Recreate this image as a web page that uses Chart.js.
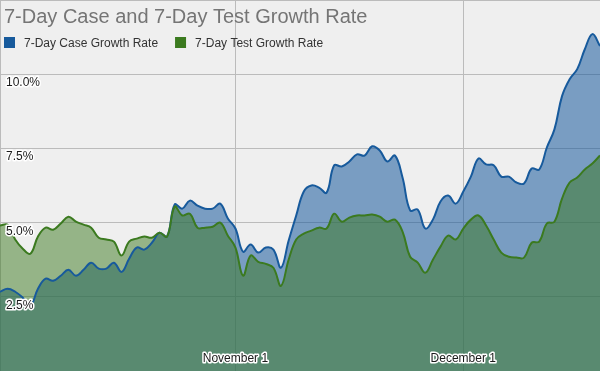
<!DOCTYPE html>
<html>
<head>
    <title>7-Day Case and 7-Day Test Growth Rate</title>
    <script src="https://cdn.jsdelivr.net/npm/chart.js"></script>
    <style>
        body { margin: 0; background: #efefef; }
        #wrap { width: 600px; height: 371px; }
        canvas { background: #efefef; }
    </style>
</head>
<body>
    <div id="wrap">
        <canvas id="growthChart"></canvas>
    </div>

    <script>
        // daily 7-day growth rates, Oct 1 - Dec 19 (percent)
        const caseGrowth = [
            2.67, 2.77, 2.67, 2.47, 2.20, 2.77, 3.11, 3.04, 3.21, 3.41,
            3.21, 3.41, 3.65, 3.45, 3.45, 3.65, 3.34, 3.78, 4.16, 4.09,
            4.32, 4.66, 4.53, 5.61, 5.47, 5.74, 5.57, 5.47, 5.47, 5.64,
            5.14, 4.80, 4.02, 4.26, 3.99, 4.16, 4.09, 3.48, 4.39, 5.24,
            6.05, 6.25, 6.18, 6.01, 6.93, 6.89, 7.06, 7.30, 7.26, 7.57,
            7.43, 7.06, 7.26, 6.52, 5.41, 5.44, 4.80, 5.10, 5.71, 5.91,
            5.64, 6.05, 6.55, 7.16, 6.96, 6.93, 6.55, 6.55, 6.35, 6.32,
            6.82, 6.79, 7.53, 8.14, 9.26, 9.83, 10.17, 10.84, 11.35, 10.95
        ];
        const testGrowth = [
            4.90, 4.93, 4.43, 4.12, 3.95, 4.53, 4.83, 4.76, 4.97, 5.20,
            5.03, 4.93, 4.83, 4.49, 4.43, 4.36, 3.89, 4.36, 4.46, 4.53,
            4.49, 4.66, 4.53, 5.54, 5.24, 5.30, 4.83, 4.83, 4.86, 5.00,
            4.56, 4.16, 3.21, 3.89, 3.68, 3.61, 3.48, 2.87, 3.75, 4.43,
            4.63, 4.73, 4.83, 4.80, 5.30, 5.03, 5.17, 5.24, 5.24, 5.27,
            5.20, 5.03, 5.10, 4.70, 3.85, 3.65, 3.31, 3.75, 4.19, 4.56,
            4.43, 4.80, 5.10, 5.24, 4.90, 4.43, 3.99, 3.85, 3.82, 3.82,
            4.32, 4.36, 4.97, 5.03, 5.81, 6.35, 6.52, 6.79, 6.99, 7.26
        ];
        const months = [['October', 31], ['November', 30], ['December', 19]];
        const shownDates = ['November 1', 'December 1'];
        const gridDates = ['October 1', 'November 1', 'December 1'];
        const yTicks = [2.5, 5.0, 7.5, 10.0];

        const dates = [];
        months.forEach(([name, days]) => {
            for (let d = 1; d <= days; d++) dates.push(name + ' ' + d);
        });

        const blue = '#175a9c';
        const green = '#3b7a1f';
        const font = "'Liberation Sans', Arial, sans-serif";

        function haloText(ctx, text, x, y) {
            ctx.lineWidth = 3;
            ctx.lineJoin = 'round';
            ctx.strokeStyle = '#ffffff';
            ctx.strokeText(text, x, y);
            ctx.fillStyle = '#1a1a1a';
            ctx.fillText(text, x, y);
        }

        // tick labels sit inside the plot, title and legend float over it
        const overlay = {
            id: 'overlay',
            afterDatasetsDraw(chart) {
                const { ctx, scales: { x, y } } = chart;
                ctx.save();
                ctx.font = '12px ' + font;
                ctx.textAlign = 'left';
                yTicks.forEach(v => {
                    haloText(ctx, v.toFixed(1) + '%', 6, y.getPixelForValue(v) + 12);
                });
                ctx.textAlign = 'center';
                shownDates.forEach(label => {
                    const px = x.getPixelForValue(dates.indexOf(label));
                    haloText(ctx, label, px, chart.chartArea.bottom - 9);
                });
                ctx.restore();
            },
            afterDraw(chart) {
                const ctx = chart.ctx;
                ctx.save();
                ctx.textAlign = 'left';
                ctx.font = '20px ' + font;
                ctx.fillStyle = '#757575';
                ctx.fillText('7-Day Case and 7-Day Test Growth Rate', 4, 23);

                ctx.font = '12px ' + font;
                let lx = 4;
                chart.data.datasets.forEach(ds => {
                    ctx.fillStyle = ds.borderColor;
                    ctx.fillRect(lx, 37, 11, 11);
                    ctx.fillStyle = '#333333';
                    ctx.fillText(ds.label, lx + 20, 46.5);
                    lx += 20 + ctx.measureText(ds.label).width + 17;
                });
                ctx.restore();
            }
        };

        const ctx = document.getElementById('growthChart').getContext('2d');
        new Chart(ctx, {
            type: 'line',
            data: {
                labels: dates,
                datasets: [
                    {
                        label: '7-Day Case Growth Rate',
                        data: caseGrowth,
                        borderColor: blue,
                        backgroundColor: 'rgba(23, 90, 156, 0.55)',
                        fill: 'origin',
                        order: 1
                    },
                    {
                        label: '7-Day Test Growth Rate',
                        data: testGrowth,
                        borderColor: green,
                        backgroundColor: 'rgba(59, 122, 31, 0.5)',
                        fill: 'origin',
                        order: 0
                    }
                ]
            },
            options: {
                responsive: true,
                maintainAspectRatio: false,
                animation: false,
                layout: { padding: 0 },
                elements: {
                    point: { radius: 0 },
                    line: { borderWidth: 2, tension: 0.4 }
                },
                plugins: {
                    legend: { display: false },
                    title: { display: false },
                    tooltip: { enabled: false },
                    filler: { drawTime: 'beforeDatasetsDraw' }
                },
                scales: {
                    x: {
                        ticks: { display: false, autoSkip: false },
                        border: { display: false },
                        grid: {
                            drawTicks: false,
                            color: c => gridDates.includes(dates[c.index]) ? '#bbbbbb' : 'rgba(0,0,0,0)'
                        }
                    },
                    y: {
                        min: 0,
                        max: 12.5,
                        ticks: { display: false, stepSize: 2.5 },
                        border: { display: false },
                        grid: { drawTicks: false, color: '#bbbbbb' }
                    }
                }
            },
            plugins: [overlay]
        });
    </script>
</body>
</html>
